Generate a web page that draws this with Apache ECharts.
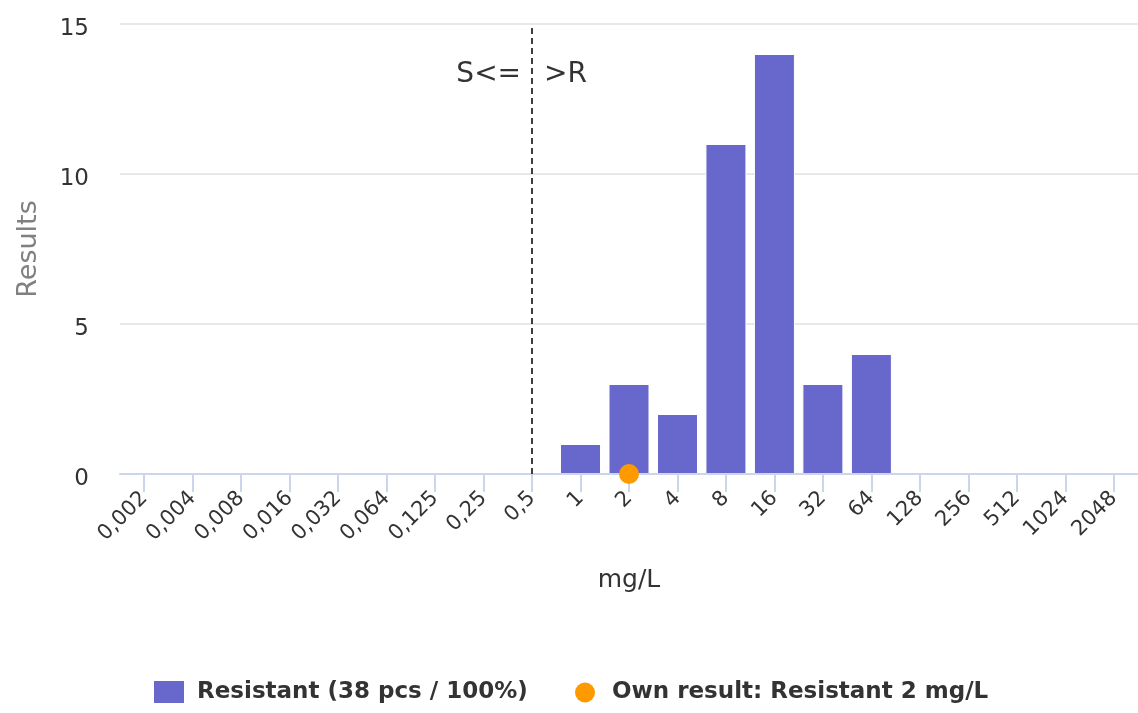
<!DOCTYPE html>
<html>
<head>
<meta charset="utf-8">
<script src="https://cdn.jsdelivr.net/npm/echarts@6/dist/echarts.min.js"></script>
<style>
html,body{margin:0;padding:0;background:#fff;}
#chart{width:1138px;height:713px;}
</style>
</head>
<body>
<div id="chart"></div>
<script>
const categories = ['0,002','0,004','0,008','0,016','0,032','0,064','0,125','0,25','0,5','1','2','4','8','16','32','64','128','256','512','1024','2048'];
const resistantCounts = [0,0,0,0,0,0,0,0,0,1,3,2,11,14,3,4,0,0,0,0,0];
const ownResultCategory = '2';
const ownResultValue = 0;
const breakpointCategory = '0,5';
const yTicks = [0, 5, 10, 15];
const seriesNames = ['Resistant (38 pcs / 100%)', 'Own result: Resistant 2 mg/L'];

const FONT = 'DejaVu Sans';
const chart = echarts.init(document.getElementById('chart'), null, {renderer:'canvas'});

chart.setOption({
  animation: false,
  backgroundColor: '#ffffff',
  textStyle: {fontFamily: FONT},
  grid: {left: 120, right: 0, top: 24, bottom: 239, containLabel: false},
  legend: [
    {
      data: [seriesNames[0]],
      left: 152, top: 679, padding: 0,
      itemWidth: 32, itemHeight: 24,
      icon: 'rect',
      textStyle: {fontFamily: FONT, fontWeight: 'bold', fontSize: 23, color: '#333333', padding: [0,0,0,7]},
      selectedMode: false
    },
    {
      data: [seriesNames[1]],
      left: 575, top: 681, padding: 0,
      itemWidth: 20, itemHeight: 20,
      icon: 'circle',
      textStyle: {fontFamily: FONT, fontWeight: 'bold', fontSize: 23, color: '#333333', padding: [0,0,0,12]},
      selectedMode: false
    }
  ],
  xAxis: {
    type: 'category',
    data: categories,
    boundaryGap: true,
    name: 'mg/L',
    nameLocation: 'middle',
    nameGap: 94,
    nameTextStyle: {fontFamily: FONT, fontSize: 25, color: '#333333'},
    axisLine: {show: true, lineStyle: {color: '#ccd6eb', width: 2}},
    axisTick: {show: true, alignWithLabel: true, length: 18, lineStyle: {color: '#ccd6eb', width: 2}},
    axisLabel: {rotate: 45, interval: 0, margin: 21, fontFamily: FONT, fontSize: 21, color: '#333333'},
    splitLine: {show: false},
    z: 3
  },
  yAxis: {
    type: 'value',
    min: yTicks[0],
    max: yTicks[yTicks.length - 1],
    interval: yTicks[1] - yTicks[0],
    name: 'Results',
    nameLocation: 'middle',
    nameGap: 78,
    nameTextStyle: {fontFamily: FONT, fontSize: 27, color: '#808080'},
    axisLine: {show: false},
    axisTick: {show: false},
    axisLabel: {
      margin: 31,
      formatter: '{v|{value}}',
      rich: {v: {fontFamily: FONT, fontSize: 23, color: '#333333', padding: [10, 0, 0, 0]}}
    },
    splitLine: {show: true, lineStyle: {color: '#e0e0e0', width: 1.5}}
  },
  series: [
    {
      name: seriesNames[0],
      type: 'bar',
      data: resistantCounts.map(v => (v === 0 ? '-' : v)),
      barWidth: 41,
      itemStyle: {color: '#6767cc', borderColor: '#ffffff', borderWidth: 1, opacity: 1},
      z: 2,
      markLine: {
        silent: true,
        symbol: ['none', 'none'],
        label: {show: false},
        lineStyle: {color: '#000000', type: [6, 4], width: 1.5},
        data: [{xAxis: breakpointCategory}]
      },
      markPoint: {
        silent: true,
        symbol: 'circle',
        symbolSize: 0,
        data: [
          {coord: [breakpointCategory, 13.3], label: {show: true, position: 'left', distance: 11, formatter: 'S<=', fontFamily: FONT, fontSize: 28, color: '#333333'}},
          {coord: [breakpointCategory, 13.3], label: {show: true, position: 'right', distance: 12, formatter: '>R', fontFamily: FONT, fontSize: 28, color: '#333333'}}
        ]
      }
    },
    {
      name: seriesNames[1],
      type: 'scatter',
      data: [[ownResultCategory, ownResultValue]],
      symbol: 'circle',
      symbolSize: 20,
      clip: false,
      itemStyle: {color: '#ff9900', opacity: 1},
      z: 5
    }
  ]
});
</script>
</body>
</html>
